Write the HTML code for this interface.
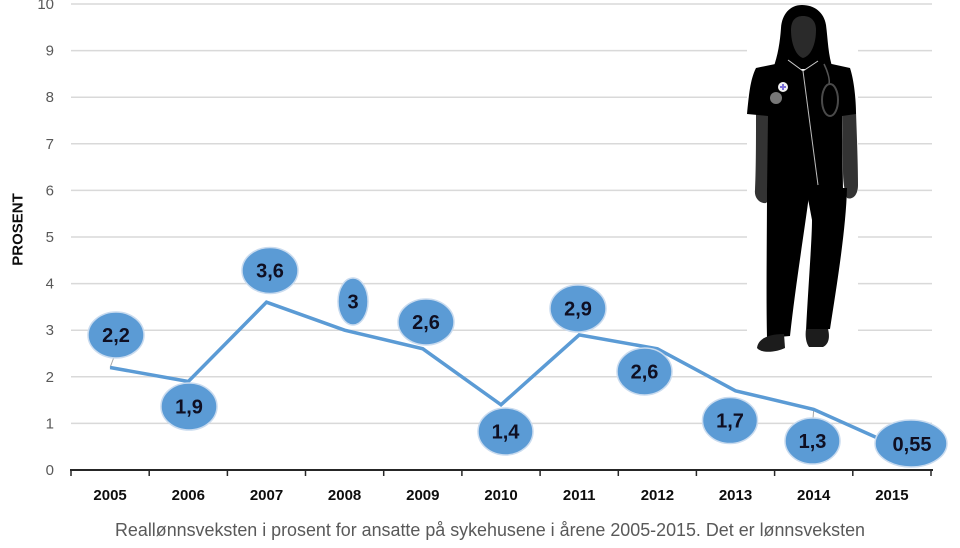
<!DOCTYPE html>
<html>
<head>
<meta charset="utf-8">
<style>
  html,body{margin:0;padding:0;background:#fff;}
  svg{display:block;}
  text{font-family:"Liberation Sans", Arial, sans-serif;}
</style>
</head>
<body>
<svg width="960" height="548" viewBox="0 0 960 548" xmlns="http://www.w3.org/2000/svg">
  <rect width="960" height="548" fill="#fff"/>
  <!-- gridlines -->
  <g stroke="#d9d9d9" stroke-width="1.5">
    <line x1="71" y1="4" x2="932" y2="4"/>
    <line x1="71" y1="50.6" x2="932" y2="50.6"/>
    <line x1="71" y1="97.2" x2="932" y2="97.2"/>
    <line x1="71" y1="143.8" x2="932" y2="143.8"/>
    <line x1="71" y1="190.4" x2="932" y2="190.4"/>
    <line x1="71" y1="237" x2="932" y2="237"/>
    <line x1="71" y1="283.6" x2="932" y2="283.6"/>
    <line x1="71" y1="330.2" x2="932" y2="330.2"/>
    <line x1="71" y1="376.8" x2="932" y2="376.8"/>
    <line x1="71" y1="423.4" x2="932" y2="423.4"/>
  </g>
  <!-- y labels -->
  <g font-size="15" fill="#595959" text-anchor="end">
    <text x="54" y="9">10</text>
    <text x="54" y="55.6">9</text>
    <text x="54" y="102.2">8</text>
    <text x="54" y="148.8">7</text>
    <text x="54" y="195.4">6</text>
    <text x="54" y="242">5</text>
    <text x="54" y="288.6">4</text>
    <text x="54" y="335.2">3</text>
    <text x="54" y="381.8">2</text>
    <text x="54" y="428.4">1</text>
    <text x="54" y="475">0</text>
  </g>
  <text transform="translate(22.5,229.5) rotate(-90)" text-anchor="middle" font-size="15" font-weight="bold" fill="#0d0d0d">PROSENT</text>

  <!-- white block behind figure -->
  <rect x="747" y="20" width="111" height="340" fill="#fff"/>

  <!-- figure silhouette -->
  <g>
    <path d="M802,5 C790,5 782,14 781,28 C780,42 778,55 773,69 L833,69 C828,55 828,40 826,25 C824,12 814,5 802,5 Z" fill="#000"/>
    <path d="M791,30 C791,20 796,16 803,16 C811,16 816,21 816,30 C816,44 811,56 803,58 C796,56 791,44 791,30 Z" fill="#2a2a2a"/>
    <!-- arms -->
    <path d="M768,112 L756,112 C756,140 756,170 755,190 C754,198 760,204 766,203 C770,200 770,190 769,180 Z" fill="#333"/>
    <path d="M842,112 L856,112 C857,140 858,165 858,185 C858,196 852,200 847,198 C844,190 843,180 843,170 Z" fill="#333"/>
    <!-- shirt -->
    <path d="M756,68 L790,61 L803,71 L818,61 L850,68 C854,80 856,100 856,114 L842,116 L843,192 L767,192 L768,116 L747,114 C749,95 750,80 756,68 Z" fill="#000"/>
    <!-- pants -->
    <path d="M767,188 L810,188 L808,203 C803,240 795,290 790,336 L767,338 C766,290 767,240 767,188 Z" fill="#000"/>
    <path d="M806,188 L847,188 C846,230 836,290 830,329 L806,331 C808,290 812,240 812,220 Z" fill="#000"/>
    <!-- shoes -->
    <path d="M757,348 C758,339 768,334 784,334 L785,348 C777,352 762,354 757,348 Z" fill="#1c1c1c"/>
    <path d="M806,329 L828,329 C830,337 829,344 823,347 L809,347 C806,343 805,336 806,329 Z" fill="#1c1c1c"/>
    <!-- details -->
    <polyline points="788,60 803,71 818,61" fill="none" stroke="#cfcfcf" stroke-width="1"/>
    <line x1="803" y1="71" x2="818" y2="185" stroke="#bdbdbd" stroke-width="1"/>
    <path d="M824,64 C828,72 830,80 829,84" fill="none" stroke="#555" stroke-width="1.5"/>
    <ellipse cx="830" cy="100" rx="8" ry="16" fill="none" stroke="#4a4a4a" stroke-width="2"/>
    <circle cx="783" cy="87" r="5" fill="#f2f2f2"/>
    <path d="M783,84 v6 M780,87 h6" stroke="#7b6fd8" stroke-width="2"/>
    <circle cx="776" cy="98" r="6" fill="#777"/>
  </g>

  <!-- x axis -->
  <g stroke="#262626" stroke-width="2">
    <line x1="70" y1="470" x2="933" y2="470"/>
  </g>
  <g stroke="#262626" stroke-width="1.5">
    <line x1="71" y1="470" x2="71" y2="476"/>
    <line x1="149.2" y1="470" x2="149.2" y2="476"/>
    <line x1="227.4" y1="470" x2="227.4" y2="476"/>
    <line x1="305.5" y1="470" x2="305.5" y2="476"/>
    <line x1="383.7" y1="470" x2="383.7" y2="476"/>
    <line x1="461.9" y1="470" x2="461.9" y2="476"/>
    <line x1="540.1" y1="470" x2="540.1" y2="476"/>
    <line x1="618.3" y1="470" x2="618.3" y2="476"/>
    <line x1="696.4" y1="470" x2="696.4" y2="476"/>
    <line x1="774.6" y1="470" x2="774.6" y2="476"/>
    <line x1="852.8" y1="470" x2="852.8" y2="476"/>
    <line x1="931" y1="470" x2="931" y2="476"/>
  </g>
  <g font-size="15" font-weight="bold" fill="#0d0d0d" text-anchor="middle">
    <text x="110.1" y="500">2005</text>
    <text x="188.3" y="500">2006</text>
    <text x="266.5" y="500">2007</text>
    <text x="344.6" y="500">2008</text>
    <text x="422.8" y="500">2009</text>
    <text x="501" y="500">2010</text>
    <text x="579.2" y="500">2011</text>
    <text x="657.4" y="500">2012</text>
    <text x="735.5" y="500">2013</text>
    <text x="813.7" y="500">2014</text>
    <text x="891.9" y="500">2015</text>
  </g>

  <!-- leader lines -->
  <g stroke="#a6a6a6" stroke-width="1">
    <line x1="110.1" y1="367.5" x2="114" y2="357"/>
    <line x1="813.7" y1="409.4" x2="813" y2="419"/>
  </g>

  <!-- series line -->
  <polyline fill="none" stroke="#5b9bd5" stroke-width="3.5" stroke-linejoin="miter"
    points="110.1,367.5 188.3,381.5 266.5,302.2 344.6,330.2 422.8,348.8 501,404.8 579.2,334.9 657.4,348.8 735.5,390.8 813.7,409.4 891.9,444.4"/>

  <!-- data label bubbles -->
  <g fill="#5b9bd5" stroke="#c9dbef" stroke-width="1.5">
    <ellipse cx="116" cy="335" rx="28" ry="23"/>
    <ellipse cx="189" cy="406.5" rx="28" ry="23.5"/>
    <ellipse cx="270" cy="270.5" rx="28" ry="23"/>
    <ellipse cx="353" cy="301.5" rx="15" ry="23.5"/>
    <ellipse cx="426" cy="322" rx="28" ry="23"/>
    <ellipse cx="505.5" cy="431.5" rx="27.5" ry="23.5"/>
    <ellipse cx="578" cy="308.5" rx="28" ry="23.5"/>
    <ellipse cx="644.5" cy="371.5" rx="27.5" ry="23.5"/>
    <ellipse cx="730" cy="420.5" rx="27.5" ry="23"/>
    <ellipse cx="812.5" cy="441" rx="27.5" ry="23"/>
    <ellipse cx="911" cy="443.5" rx="36" ry="23.5"/>
  </g>
  <g font-size="20" font-weight="bold" fill="#0f0f22" text-anchor="middle">
    <text x="116" y="342">2,2</text>
    <text x="189" y="413.5">1,9</text>
    <text x="270" y="277.5">3,6</text>
    <text x="353" y="308.5">3</text>
    <text x="426" y="329">2,6</text>
    <text x="505.5" y="438.5">1,4</text>
    <text x="578" y="315.5">2,9</text>
    <text x="644.5" y="378.5">2,6</text>
    <text x="730" y="427.5">1,7</text>
    <text x="812.5" y="448">1,3</text>
    <text x="912" y="451">0,55</text>
  </g>

  <!-- caption -->
  <text x="115" y="536" font-size="18" fill="#595959" textLength="750" lengthAdjust="spacingAndGlyphs">Reallønnsveksten i prosent for ansatte på sykehusene i årene 2005-2015. Det er lønnsveksten</text>
</svg>
</body>
</html>
